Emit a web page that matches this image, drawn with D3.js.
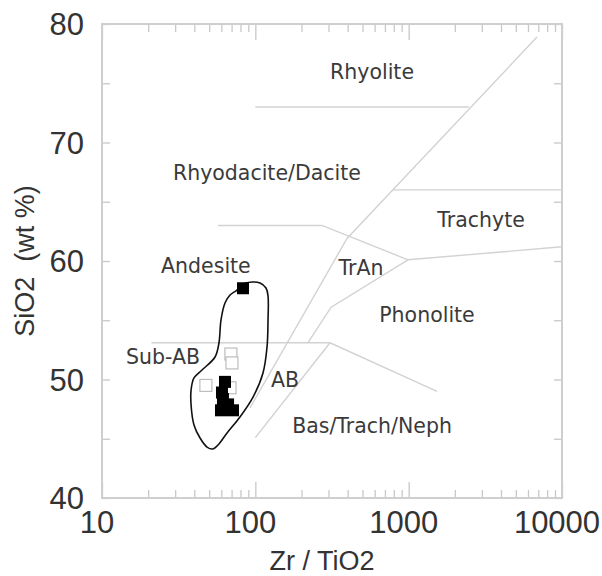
<!DOCTYPE html>
<html>
<head>
<meta charset="utf-8">
<script src="https://cdn.jsdelivr.net/npm/d3@7"></script>
<style>
  body { margin: 0; background: #fff; }
  text { font-family: "Liberation Sans", Arial, sans-serif; fill: #333; }
  .frame { fill: none; stroke: #cfcfcf; stroke-width: 2; }
  .axis path { display: none; }
  .axis line { stroke: #c8c8c8; stroke-width: 1.3; }
  .field { fill: none; stroke: #d2d2d2; stroke-width: 1.4; }
  .fname { font-family: "DejaVu Sans", sans-serif; font-size: 20.5px; fill: #3a3a3a; }
</style>
</head>
<body>
<svg id="chart" width="602" height="576"></svg>
<script>
// Zr/TiO2 vs SiO2 (Winchester & Floyd style)
const xMajor = [10, 100, 1000, 10000];
const yTicks = [40, 50, 60, 70, 80];
const yMinor = [45, 55, 65, 75];

// field boundaries [Zr/TiO2, SiO2]
const rhyoliteLine = [[100, 73], [2470, 73]];
const trachyteTop = [[790, 66], [10000, 66]];
const mainDiagonal = [[6870, 78.9], [396, 61.9], [92.3, 47.6]];
const andesiteTop = [[57, 63], [272, 63], [990, 60.1], [10000, 61.2]];
const tranPhonolite = [[990, 60.1], [312, 56.1], [220, 53.1]];
const basaltTop = [[21, 53.1], [307, 53.1], [1530, 49.0]];
const abBasLine = [[307, 53.1], [100, 45.1]];

const fieldNames = ["Rhyolite", "Rhyodacite/Dacite", "Trachyte", "Andesite", "TrAn",
  "Phonolite", "Sub-AB", "AB", "Bas/Trach/Neph"];
const fieldAt = [[577, 75.4], [119, 66.8], [2965, 62.9], [47.6, 59.0], [489, 58.8],
  [1317, 54.85], [25.0, 51.3], [156, 49.4], [577, 45.5]];

// envelope around the samples
const envelope = [[75.9, 57.55], [83.1, 58.06], [95.1, 58.23], [107.3, 58.14], [117.4, 57.72],
  [121.0, 57.05], [121.0, 55.02], [119.2, 52.74], [112.2, 50.55], [96.6, 48.52],
  [79.4, 46.84], [65.4, 45.49], [57.9, 44.56], [52.9, 44.14], [48.4, 44.30],
  [43.6, 45.06], [39.8, 46.16], [38.1, 47.85], [38.1, 49.11], [39.8, 50.13],
  [44.9, 50.80], [54.6, 51.90], [57.9, 53.08], [59.7, 55.02], [63.4, 56.46], [68.4, 57.13]];

const openSamples = [[69.3, 52.15], [70.4, 51.4], [47.6, 49.5], [68.4, 49.3]];
const filledSamples = [[83.1, 57.7], [63.4, 49.8], [60.6, 48.9], [61.5, 48.35],
  [59.7, 47.4], [71.5, 47.4], [66.4, 47.9]];

const margin = {top: 24, right: 40, bottom: 78, left: 102};
const width = 602 - margin.left - margin.right;
const height = 576 - margin.top - margin.bottom;

const svg = d3.select("#chart");
const g = svg.append("g").attr("transform", `translate(${margin.left},${margin.top})`);

const x = d3.scaleLog().domain([10, 10000]).range([0, width]);
const y = d3.scaleLinear().domain([40, 80]).range([height, 0]);

const xMinor = x.ticks().filter(v => xMajor.indexOf(v) < 0);

// ticks on all four sides, pointing inward
g.append("g").attr("class", "axis").attr("transform", `translate(0,${height})`)
  .call(d3.axisBottom(x).tickValues(xMinor).tickSize(-8).tickFormat(""));
g.append("g").attr("class", "axis").attr("transform", `translate(0,${height})`)
  .call(d3.axisBottom(x).tickValues(xMajor).tickSize(-16).tickFormat(""));
g.append("g").attr("class", "axis")
  .call(d3.axisTop(x).tickValues(xMinor).tickSize(-8).tickFormat(""));
g.append("g").attr("class", "axis")
  .call(d3.axisTop(x).tickValues(xMajor).tickSize(-16).tickFormat(""));
g.append("g").attr("class", "axis")
  .call(d3.axisLeft(y).tickValues(yTicks.concat(yMinor)).tickSize(-8).tickFormat(""));
g.append("g").attr("class", "axis").attr("transform", `translate(${width},0)`)
  .call(d3.axisRight(y).tickValues(yTicks.concat(yMinor)).tickSize(-8).tickFormat(""));

g.append("rect").attr("class", "frame")
  .attr("width", width).attr("height", height);

// tick labels
g.selectAll(".xlab").data(xMajor).enter().append("text")
  .attr("x", d => x(d) - 5).attr("y", height + 35)
  .attr("text-anchor", "middle").style("font-size", "31px")
  .text(d => d);
g.selectAll(".ylab").data(yTicks).enter().append("text")
  .attr("x", -18).attr("y", d => y(d) + 11)
  .attr("text-anchor", "end").style("font-size", "31px")
  .text(d => d);

// axis titles
svg.append("text")
  .attr("x", margin.left + width / 2 - 10).attr("y", 570)
  .attr("text-anchor", "middle").style("font-size", "27px")
  .text("Zr / TiO2");
svg.append("text")
  .attr("transform", `translate(34,${margin.top + height / 2}) rotate(-90)`)
  .attr("text-anchor", "middle").style("font-size", "27px")
  .attr("xml:space", "preserve")
  .text("SiO2  (wt %)");

// field boundaries
const line = d3.line().x(d => x(d[0])).y(d => y(d[1]));
const fields = [rhyoliteLine, trachyteTop, mainDiagonal, andesiteTop, tranPhonolite, basaltTop, abBasLine];
g.selectAll(".field").data(fields).enter().append("path")
  .attr("class", "field").attr("d", line);

g.selectAll(".fname").data(fieldNames).enter().append("text")
  .attr("class", "fname")
  .attr("x", (d, i) => x(fieldAt[i][0]))
  .attr("y", (d, i) => y(fieldAt[i][1]))
  .attr("text-anchor", "middle")
  .text(d => d);

// envelope
g.append("path")
  .datum(envelope)
  .attr("d", d3.line().x(d => x(d[0])).y(d => y(d[1])).curve(d3.curveCatmullRomClosed))
  .attr("fill", "none").attr("stroke", "#111").attr("stroke-width", 1.6);

// samples
const s = 12;
g.selectAll(".open").data(openSamples).enter().append("rect")
  .attr("x", d => x(d[0]) - s / 2).attr("y", d => y(d[1]) - s / 2)
  .attr("width", s).attr("height", s)
  .attr("fill", "#fff").attr("stroke", "#bdbdbd").attr("stroke-width", 1.2);
g.selectAll(".filled").data(filledSamples).enter().append("rect")
  .attr("x", d => x(d[0]) - s / 2).attr("y", d => y(d[1]) - s / 2)
  .attr("width", s).attr("height", s)
  .attr("fill", "#000");
</script>
</body>
</html>
